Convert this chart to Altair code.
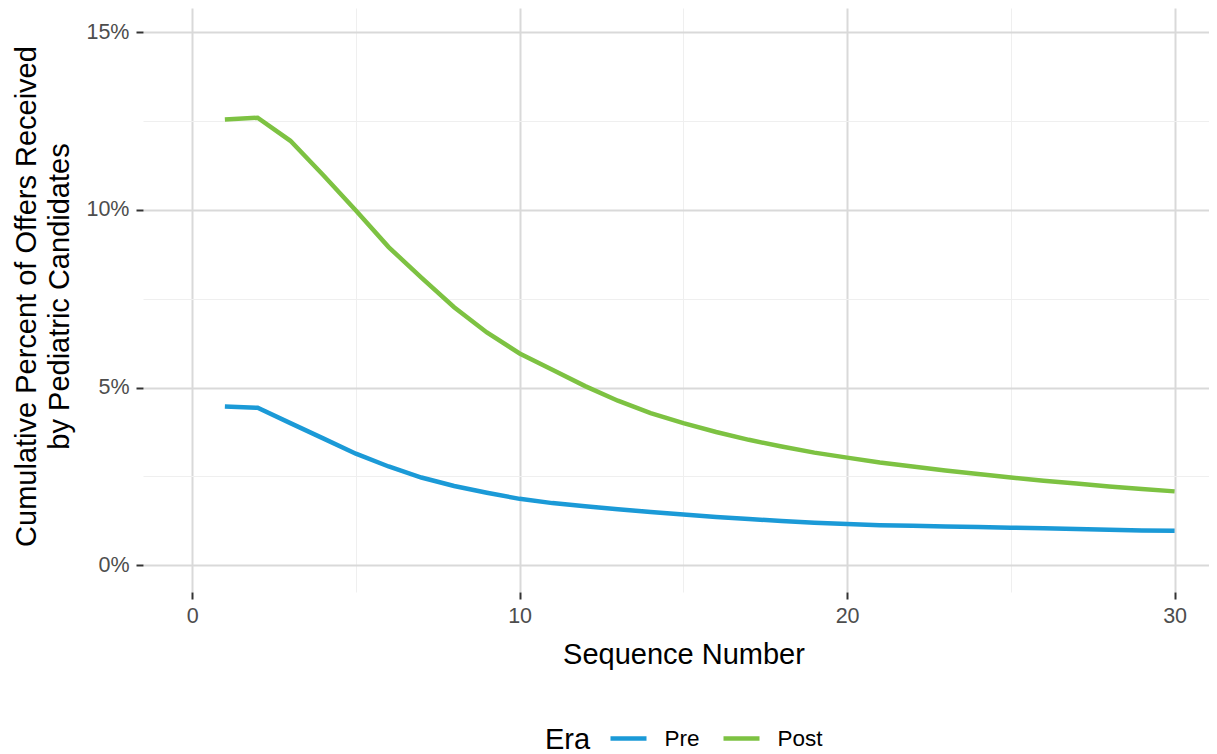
import altair as alt
import pandas as pd

# ---- data ----
seq = list(range(1, 31))
pre = [4.47, 4.43, 4.00, 3.57, 3.14, 2.78, 2.47, 2.23, 2.04, 1.87,
       1.75, 1.66, 1.58, 1.50, 1.43, 1.36, 1.30, 1.25, 1.20, 1.16,
       1.13, 1.11, 1.09, 1.08, 1.06, 1.04, 1.02, 1.00, 0.98, 0.97]
post = [12.54, 12.59, 11.94, 10.98, 9.98, 8.95, 8.09, 7.26, 6.55, 5.96,
        5.50, 5.04, 4.63, 4.28, 4.00, 3.75, 3.53, 3.34, 3.17, 3.03,
        2.89, 2.78, 2.67, 2.57, 2.47, 2.38, 2.30, 2.22, 2.15, 2.08]
eras = ["Pre", "Post"]
era_colors = ["#1B9AD7", "#7DC242"]
x_ticks = [0, 5, 10, 15, 20, 25, 30]
y_ticks = [0, 2.5, 5, 7.5, 10, 12.5, 15]

rows = []
for s, v in zip(seq, pre):
    rows.append({"seq": s, "pct": v, "era": "Pre"})
for s, v in zip(seq, post):
    rows.append({"seq": s, "pct": v, "era": "Post"})
df = pd.DataFrame(rows)

FONT = "Liberation Sans"
x_minor = "datum.value % 10 !== 0"
y_minor = "datum.value % 5 !== 0"

x_axis = alt.Axis(
    values=x_ticks,
    title="Sequence Number",
    domain=False,
    grid=True,
    gridColor={"condition": {"test": x_minor, "value": "#EFEFEF"}, "value": "#D9D9D9"},
    gridWidth={"condition": {"test": x_minor, "value": 1}, "value": 2},
    ticks=True, tickSize=7, tickWidth=2, tickColor="#333333",
    tickOpacity={"condition": {"test": x_minor, "value": 0}, "value": 1},
    labelExpr="datum.value % 10 === 0 ? datum.label : ''",
    labelFont=FONT, labelFontSize=21.5, labelColor="#4D4D4D", labelPadding=6,
    labelFlush=False, labelOverlap=False,
    titleFont=FONT, titleFontSize=29, titleColor="#000000", titleFontWeight="normal",
    titleX=540.5, titleY=71, titleAlign="center", titleBaseline="alphabetic",
)

y_axis = alt.Axis(
    values=y_ticks,
    title=["Cumulative Percent of Offers Received", "by Pediatric Candidates"],
    domain=False,
    grid=True,
    gridColor={"condition": {"test": y_minor, "value": "#EFEFEF"}, "value": "#D9D9D9"},
    gridWidth={"condition": {"test": y_minor, "value": 1}, "value": 2},
    ticks=True, tickSize=7, tickWidth=2, tickColor="#333333",
    tickOpacity={"condition": {"test": y_minor, "value": 0}, "value": 1},
    labelExpr="datum.value % 5 === 0 ? datum.value + '%' : ''",
    labelFont=FONT, labelFontSize=21.5, labelColor="#4D4D4D", labelPadding=7,
    labelFlush=False, labelOverlap=False,
    titleFont=FONT, titleFontSize=29, titleColor="#000000", titleFontWeight="normal",
    titleX=-108, titleY=288, titleAlign="center", titleBaseline="alphabetic",
    titleLineHeight=33,
)

legend = alt.Legend(
    title="Era", orient="none", legendX=402, legendY=710,
    direction="horizontal", titleOrient="left",
    titleAnchor="start", titleBaseline="line-top", titleLineHeight=46,
    symbolType="stroke", symbolSize=1296, symbolStrokeWidth=4.5,
    labelFont=FONT, labelFontSize=22.5, labelColor="#000000", labelOffset=15.5,
    titleFont=FONT, titleFontSize=29, titleColor="#000000", titleFontWeight="normal",
    titlePadding=17, columnPadding=14,
)

chart = alt.Chart(df).mark_line(strokeWidth=4.5).encode(
    x=alt.X("seq:Q", axis=x_axis,
            scale=alt.Scale(domain=[-1.5, 31.05], nice=False, zero=False)),
    y=alt.Y("pct:Q", axis=y_axis,
            scale=alt.Scale(domain=[-0.75, 15.675], nice=False, zero=False)),
    color=alt.Color("era:N", sort=eras,
                    scale=alt.Scale(domain=eras, range=era_colors), legend=legend),
).properties(
    width=1066, height=584,
    autosize=alt.AutoSizeParams(type="none"),
    padding={"left": 135, "top": 0, "right": 0, "bottom": 162},
    background="white",
).configure_view(stroke=None)

chart.save("out.html", embed_options={"renderer": "svg", "actions": False})
